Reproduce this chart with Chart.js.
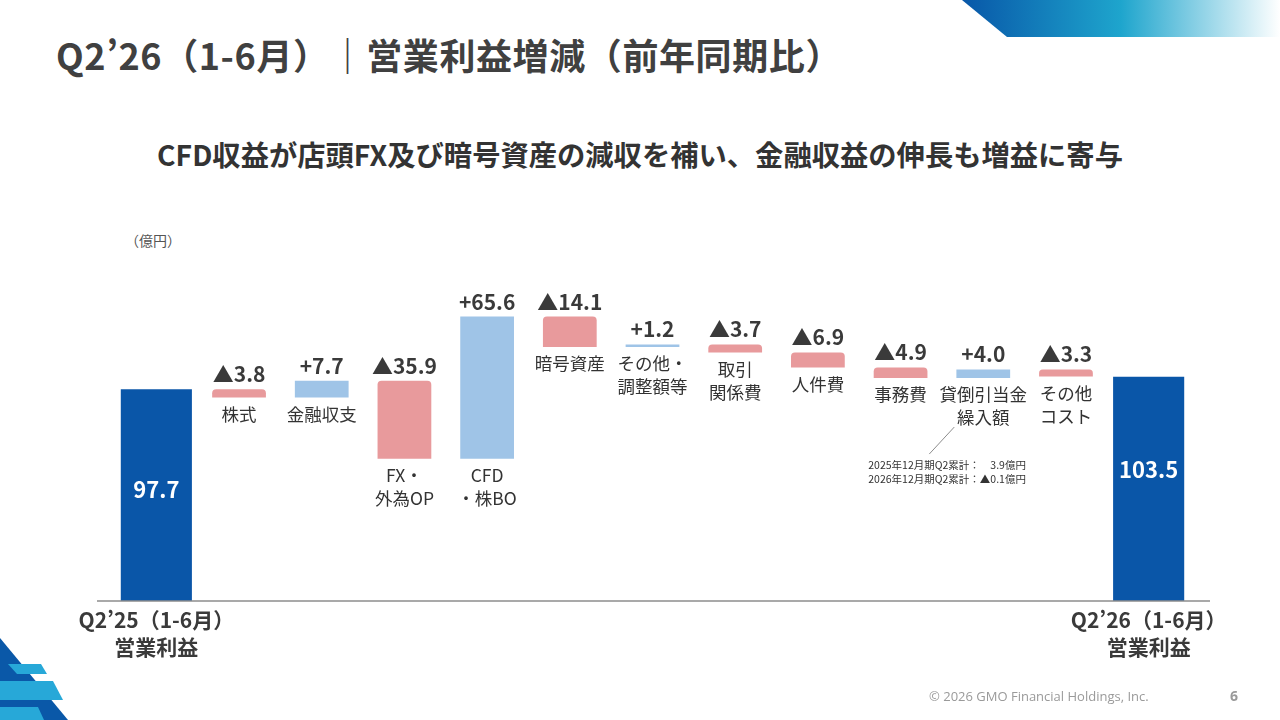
<!DOCTYPE html>
<html lang="ja">
<head>
<meta charset="utf-8">
<title>営業利益増減</title>
<script src="https://cdn.jsdelivr.net/npm/chart.js@4.4.1/dist/chart.umd.min.js"></script>
<style>
    html, body { margin: 0; padding: 0; background: #fff; }
    body { width: 1280px; height: 720px; position: relative; overflow: hidden;
           font-family: "Noto Sans CJK JP", "Noto Sans", sans-serif; }
    #chartWrap { position: absolute; left: 0; top: 0; width: 1280px; height: 720px; }
    .title { position: absolute; left: 56px; top: 28px; font-size: 36px; font-weight: 700; color: #404040; letter-spacing: 0.6px; }
    .subtitle { position: absolute; left: 0; width: 1280px; top: 133px; text-align: center; font-size: 28.3px; font-weight: 700; color: #333; }
    .unit { position: absolute; left: 125px; top: 230px; font-size: 14px; color: #555; }
    .footer { position: absolute; left: 929px; top: 687px; font-size: 13px; color: #9a9a9a; font-family: "Open Sans", "Noto Sans", sans-serif; }
    .page { position: absolute; left: 1230px; top: 686px; font-size: 14px; color: #9a9a9a; font-weight: 700; font-family: "Open Sans", sans-serif; }
    svg.deco { position: absolute; }
</style>
</head>
<body>
<svg class="deco" style="left:0;top:0" width="1280" height="40">
    <defs>
        <linearGradient id="band" x1="0" x2="1" y1="0" y2="0">
            <stop offset="0" stop-color="#0857a8"/>
            <stop offset="0.5" stop-color="#1ea5cd"/>
            <stop offset="1" stop-color="#ffffff"/>
        </linearGradient>
    </defs>
    <polygon points="962,0 1280,0 1280,37 1007,37" fill="url(#band)"/>
</svg>
<svg class="deco" style="left:0;top:630px" width="100" height="90">
    <polygon points="0,8 68,90 0,90" fill="#0a58a8"/>
    <polygon points="8,34 41,34 47,44 17,44" fill="#27a8d8"/>
    <polygon points="0,51 53,51 63,70 0,70" fill="#27a8d8"/>
    <polygon points="0,77 38,77 44,90 0,90" fill="#27a8d8"/>
</svg>
<div class="title">Q2’26（1-6月）｜営業利益増減（前年同期比）</div>
<div class="subtitle">CFD収益が店頭FX及び暗号資産の減収を補い、金融収益の伸長も増益に寄与</div>
<div class="unit">（億円）</div>
<div id="chartWrap"><canvas id="bridgeChart" width="1280" height="720"></canvas></div>
<div class="footer">© 2026 GMO Financial Holdings, Inc.</div>
<div class="page">6</div>

<script>
// 営業利益 増減要因（億円）
const categories = [
    ['Q2’25（1-6月）', '営業利益'],
    ['株式'],
    ['金融収支'],
    ['FX・', '外為OP'],
    ['CFD', '・株BO'],
    ['暗号資産'],
    ['その他・', '調整額等'],
    ['取引', '関係費'],
    ['人件費'],
    ['事務費'],
    ['貸倒引当金', '繰入額'],
    ['その他', 'コスト'],
    ['Q2’26（1-6月）', '営業利益']
];
const startValue = 97.7;
const endValue = 103.5;
const changes = [-3.8, 7.7, -35.9, 65.6, -14.1, 1.2, -3.7, -6.9, -4.9, 4.0, -3.3];
const noteLines = ['2025年12月期Q2累計：　3.9億円', '2026年12月期Q2累計：▲0.1億円'];
const noteIndex = 10;

const COLOR_TOTAL = '#0a56a8';
const COLOR_UP = '#9fc4e7';
const COLOR_DOWN = '#e89a9c';
const FONT = '"Noto Sans CJK JP", "Noto Sans", sans-serif';

// floating bars for each change from the running total
let running = startValue;
const changeBars = [null];
changes.forEach(v => {
    const next = running + v;
    changeBars.push([Math.min(running, next), Math.max(running, next)]);
    running = next;
});
changeBars.push(null);

const totalBars = categories.map(() => null);
totalBars[0] = startValue;
totalBars[categories.length - 1] = endValue;

function fmtChange(v) {
    return (v < 0 ? '▲' : '+') + Math.abs(v).toFixed(1);
}

const bridgeLabels = {
    id: 'bridgeLabels',
    afterDatasetsDraw(chart) {
        const ctx = chart.ctx;
        const y = chart.scales.y;
        const x = chart.scales.x;
        ctx.save();

        // baseline
        ctx.strokeStyle = '#8c8c8c';
        ctx.lineWidth = 1.5;
        ctx.beginPath();
        ctx.moveTo(x.left - 18, y.getPixelForValue(0));
        ctx.lineTo(x.right + 20, y.getPixelForValue(0));
        ctx.stroke();

        // totals: value inside bar
        chart.getDatasetMeta(0).data.forEach((el, i) => {
            if (totalBars[i] == null) return;
            ctx.fillStyle = '#fff';
            ctx.font = 'bold 22px ' + FONT;
            ctx.textAlign = 'center';
            ctx.textBaseline = 'middle';
            const lift = i === 0 ? 6 : 19;
            ctx.fillText(totalBars[i].toFixed(1), el.x, (el.y + el.base) / 2 - lift);
        });

        // changes: value above, name below
        chart.getDatasetMeta(1).data.forEach((el, i) => {
            if (changeBars[i] == null) return;
            const top = Math.min(el.y, el.base);
            const bottom = Math.max(el.y, el.base);
            ctx.textAlign = 'center';
            ctx.fillStyle = '#3a3a3a';
            ctx.font = 'bold 21px ' + FONT;
            ctx.textBaseline = 'alphabetic';
            ctx.fillText(fmtChange(changes[i - 1]), el.x, top - 7);

            ctx.fillStyle = '#333';
            ctx.font = '17.5px ' + FONT;
            ctx.textBaseline = 'top';
            categories[i].forEach((line, k) => {
                ctx.fillText(line, el.x, bottom + 8 + k * 23);
            });

            if (i === noteIndex) {
                const ly = bottom + 8 + categories[i].length * 23;
                ctx.strokeStyle = '#8c8c8c';
                ctx.lineWidth = 1;
                ctx.beginPath();
                ctx.moveTo(el.x - 29, ly - 5);
                ctx.lineTo(el.x - 54, ly + 22);
                ctx.stroke();
                ctx.fillStyle = '#333';
                ctx.font = '10.5px ' + FONT;
                ctx.textAlign = 'left';
                ctx.textBaseline = 'middle';
                noteLines.forEach((line, k) => {
                    ctx.fillText(line, el.x - 115, ly + 33 + k * 14);
                });
            }
        });
        ctx.restore();
    }
};

new Chart(document.getElementById('bridgeChart').getContext('2d'), {
    type: 'bar',
    data: {
        labels: categories,
        datasets: [
            {
                label: '営業利益',
                data: totalBars,
                backgroundColor: COLOR_TOTAL,
                barPercentage: 0.86,
                categoryPercentage: 1,
                grouped: false
            },
            {
                label: '増減',
                data: changeBars,
                backgroundColor: changeBars.map((b, i) => (i > 0 && changes[i - 1] < 0) ? COLOR_DOWN : COLOR_UP),
                borderSkipped: false,
                borderRadius: ctx => (changes[ctx.dataIndex - 1] < 0)
                    ? { topLeft: 4, topRight: 4, bottomLeft: 0, bottomRight: 0 } : 0,
                barPercentage: 0.65,
                categoryPercentage: 1,
                grouped: false
            }
        ]
    },
    options: {
        responsive: false,
        animation: false,
        layout: { padding: { left: 115, right: 90, top: 276, bottom: 0 } },
        plugins: {
            legend: { display: false },
            tooltip: { enabled: false }
        },
        scales: {
            x: {
                grid: { display: false, drawTicks: false },
                border: { display: false },
                afterFit: scale => { scale.height = 119; },
                ticks: {
                    padding: 5,
                    autoSkip: false,
                    maxRotation: 0,
                    color: '#3a3a3a',
                    font: { family: FONT, size: 21, weight: 'bold', lineHeight: 1.3 },
                    callback: (v, i) => (i === 0 || i === categories.length - 1) ? categories[i] : ''
                }
            },
            y: {
                display: false,
                min: 0,
                max: 150
            }
        }
    },
    plugins: [bridgeLabels]
});
</script>
</body>
</html>
